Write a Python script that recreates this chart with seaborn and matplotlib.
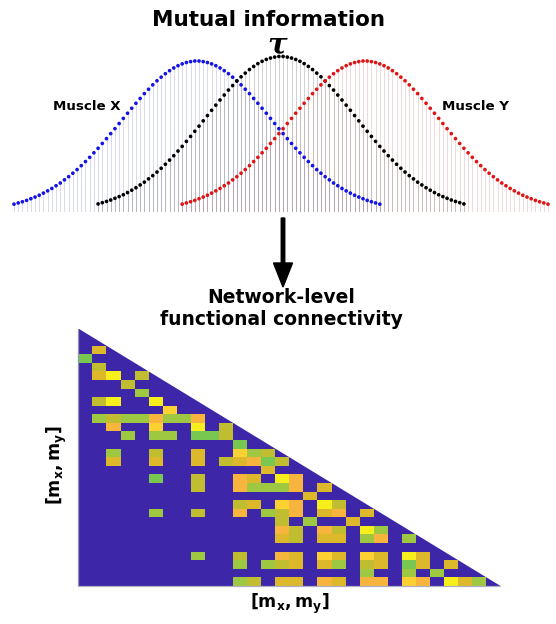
import numpy as np
import pandas as pd
import matplotlib
matplotlib.use("Agg")
import matplotlib.pyplot as plt
import seaborn as sns
from matplotlib.colors import LinearSegmentedColormap
from matplotlib.patches import Polygon, FancyArrow

# ---------------- data: top panel (lagged distributions) ----------------
profile = [0.052, 0.060, 0.068, 0.077, 0.088, 0.099, 0.111, 0.125, 0.140, 0.156,
           0.174, 0.192, 0.213, 0.234, 0.257, 0.281, 0.307, 0.334, 0.362, 0.392,
           0.422, 0.454, 0.486, 0.519, 0.552, 0.586, 0.620, 0.654, 0.687, 0.720,
           0.752, 0.784, 0.813, 0.842, 0.869, 0.893, 0.916, 0.936, 0.954, 0.969,
           0.981, 0.990, 0.996, 1.000,
           1.000, 0.996, 0.990, 0.981, 0.969, 0.954, 0.936, 0.916, 0.893, 0.869,
           0.842, 0.813, 0.784, 0.752, 0.720, 0.687, 0.654, 0.620, 0.586, 0.552,
           0.519, 0.486, 0.454, 0.422, 0.392, 0.362, 0.334, 0.307, 0.281, 0.257,
           0.234, 0.213, 0.192, 0.174, 0.156, 0.140, 0.125, 0.111, 0.099, 0.088,
           0.077, 0.068, 0.060, 0.052]
curve_names = ["Muscle X", "tau", "Muscle Y"]
curve_offsets = [0, 20, 40]
curve_peaks = [1.00, 1.03, 1.00]
curve_colors = ["#1414e6", "#000000", "#e01414"]
stem_colors = [(0.50, 0.50, 0.80), (0.40, 0.40, 0.40), (0.80, 0.50, 0.50)]

# ---------------- data: connectivity matrix (lower triangle) ----------------
n_nodes = 30
cell_row = [2, 3, 4, 5, 5, 5, 6, 7, 8, 8, 8, 9,
            10, 10, 10, 10, 10, 10, 10, 10,
            11, 11, 11, 11,
            12, 12, 12, 12, 12, 12,
            13,
            14, 14, 14, 14, 14, 14,
            15, 15, 15, 15, 15, 15, 15, 15,
            16,
            17, 17, 17, 17, 17, 17,
            18, 18, 18, 18, 18, 18, 18,
            19,
            20, 20, 20, 20, 20, 20,
            21, 21, 21, 21, 21, 21, 21, 21, 21,
            22, 22, 22,
            23, 23, 23, 23, 23, 23,
            24, 24, 24, 24, 24, 24, 24,
            26, 26, 26, 26, 26, 26, 26, 26, 26, 26,
            27, 27, 27, 27, 27, 27, 27, 27, 27, 27, 27,
            28, 28, 28,
            29, 29, 29, 29, 29, 29, 29, 29, 29, 29, 29, 29, 29]
cell_col = [1, 0, 1, 1, 2, 4, 3, 4, 1, 2, 5, 6,
            1, 2, 3, 4, 5, 6, 7, 8,
            2, 5, 8, 10,
            3, 5, 6, 8, 9, 10,
            11,
            2, 5, 8, 11, 12, 13,
            2, 5, 8, 10, 11, 12, 13, 14,
            13,
            5, 8, 11, 12, 14, 15,
            8, 11, 12, 13, 14, 15, 17,
            16,
            11, 12, 14, 15, 17, 18,
            5, 8, 11, 13, 14, 15, 17, 18, 20,
            14, 16, 19,
            14, 15, 17, 18, 20, 21,
            14, 15, 17, 18, 20, 21, 23,
            8, 11, 14, 15, 17, 18, 20, 21, 23, 24,
            11, 13, 14, 15, 17, 18, 20, 21, 23, 24, 26,
            20, 23, 25,
            11, 12, 14, 15, 17, 18, 20, 21, 23, 24, 26, 27, 28]
cell_val = [0.82, 0.62, 0.75, 0.82, 1.00, 0.75, 0.75, 0.68, 0.75, 1.00, 1.00, 0.93,
            0.68, 0.75, 0.68, 0.68, 0.88, 0.68, 0.68, 0.88,
            0.88, 0.93, 1.00, 0.75,
            0.68, 0.68, 0.68, 0.62, 0.62, 0.75,
            0.62,
            0.68, 0.75, 0.82, 0.93, 0.68, 0.75,
            0.82, 0.82, 0.82, 0.75, 0.82, 0.88, 0.62, 0.75,
            0.82,
            0.62, 0.75, 0.88, 0.82, 1.00, 0.88,
            0.75, 0.88, 0.68, 0.68, 0.68, 0.88, 0.82,
            0.82,
            0.75, 0.82, 0.93, 0.88, 1.00, 0.75,
            0.68, 0.75, 0.88, 0.68, 0.75, 0.88, 0.82, 0.88, 0.82,
            0.75, 0.68, 0.82,
            0.88, 0.75, 0.88, 0.75, 1.00, 0.68,
            0.82, 0.75, 0.82, 0.82, 0.68, 0.88, 0.68,
            0.68, 0.75, 0.88, 0.82, 0.93, 0.82, 0.93, 0.82, 1.00, 0.82,
            0.68, 0.68, 0.75, 0.82, 0.82, 0.68, 0.75, 0.82, 0.62, 0.82, 0.82,
            0.68, 0.68, 0.68,
            0.68, 0.75, 0.82, 0.82, 0.88, 0.82, 0.88, 0.88, 0.93, 0.88, 1.00, 0.82, 0.68]

axis_label = r"$\mathbf{[m_x,m_y]}$"

# ---------------- figure ----------------
sns.set_theme(style="white")
plt.rcParams["font.family"] = ["DejaVu Sans"]
plt.rcParams["mathtext.fontset"] = "dejavusans"

W, H = 556, 624
fig = plt.figure(figsize=(W / 100, H / 100), dpi=100)
fig.patch.set_facecolor("white")

# ---- top panel ----
ax_top = fig.add_axes([11.9 / W, 1 - 212 / H, (550.1 - 11.9) / W, (212 - 53.45) / H])
rows = []
for name, off, pk in zip(curve_names, curve_offsets, curve_peaks):
    for i, p in enumerate(profile):
        rows.append({"curve": name, "pos": off + i, "height": p * pk})
df = pd.DataFrame(rows)

for name, sc in zip(curve_names, stem_colors):
    d = df[df["curve"] == name]
    ax_top.vlines(d["pos"], 0, d["height"], color=sc, alpha=0.3, linewidth=0.7, zorder=1)

sns.scatterplot(data=df, x="pos", y="height", hue="curve",
                palette=dict(zip(curve_names, curve_colors)),
                s=7, linewidth=0, legend=False, ax=ax_top, zorder=3)
ax_top.set_xlim(-0.5, 127.5)
ax_top.set_ylim(0, 1.05)
ax_top.axis("off")

# ---- heatmap panel ----
M = np.zeros((n_nodes, n_nodes))
for r, c, v in zip(cell_row, cell_col, cell_val):
    M[r, c] = v

cmap = LinearSegmentedColormap.from_list("parula_like", [
    (0.00, "#3e26a8"), (0.50, "#3e26a8"), (0.62, "#78c850"), (0.68, "#9ec843"),
    (0.75, "#bfbe30"), (0.82, "#ddb82a"), (0.88, "#f7b43e"), (0.93, "#fccf32"),
    (1.00, "#f6ef1c")])

x0, x1 = 78.3, 500.4
y0, y1 = 328.5, 585.9
ax_hm = fig.add_axes([x0 / W, 1 - y1 / H, (x1 - x0) / W, (y1 - y0) / H])
sns.heatmap(M, cmap=cmap, vmin=0, vmax=1, cbar=False, ax=ax_hm,
            xticklabels=False, yticklabels=False, square=False)
ax_hm.add_patch(Polygon([(0, 0), (n_nodes, n_nodes), (n_nodes + 1, n_nodes),
                         (n_nodes + 1, -1), (0, -1)], closed=True,
                        facecolor="white", edgecolor="none", zorder=5, clip_on=False))
ax_hm.plot([0, 0], [0, n_nodes], color="#9894b0", lw=0.9, zorder=6, clip_on=False)
ax_hm.plot([0, n_nodes], [n_nodes, n_nodes], color="#b0aec4", lw=0.9, zorder=6, clip_on=False)
for s in ax_hm.spines.values():
    s.set_visible(False)

# ---- overlay for texts and arrow ----
ov = fig.add_axes([0, 0, 1, 1], zorder=10)
ov.set_xlim(0, W)
ov.set_ylim(H, 0)
ov.axis("off")
ov.patch.set_alpha(0)

ov.text(269, 26.5, "Mutual information", ha="center", va="baseline",
        fontsize=15.5, fontweight="bold", color="black")
ov.text(277, 53, "τ", ha="center", va="baseline", fontsize=21,
        fontweight="bold", fontstyle="italic", family="DejaVu Serif", color="black")
ov.text(87, 110, "Muscle X", ha="center", va="baseline", fontsize=9.6,
        fontweight="bold", color="black")
ov.text(475.5, 110, "Muscle Y", ha="center", va="baseline", fontsize=9.6,
        fontweight="bold", color="black")

ov.add_patch(FancyArrow(283, 218, 0, 69, width=3.5, head_width=19, head_length=24,
                        length_includes_head=True, color="black"))

ov.text(281, 303, "Network-level", ha="center", va="baseline", fontsize=13.5,
        fontweight="bold", color="black")
ov.text(281, 325, "functional connectivity", ha="center", va="baseline",
        fontsize=13.5, fontweight="bold", color="black")

ov.text(290, 604, axis_label, ha="center", va="center", fontsize=12.5, color="black")
ov.text(57, 465, axis_label, ha="center", va="center", fontsize=12.5,
        rotation=90, color="black")

fig.savefig("out.png", dpi=100, facecolor="white")
